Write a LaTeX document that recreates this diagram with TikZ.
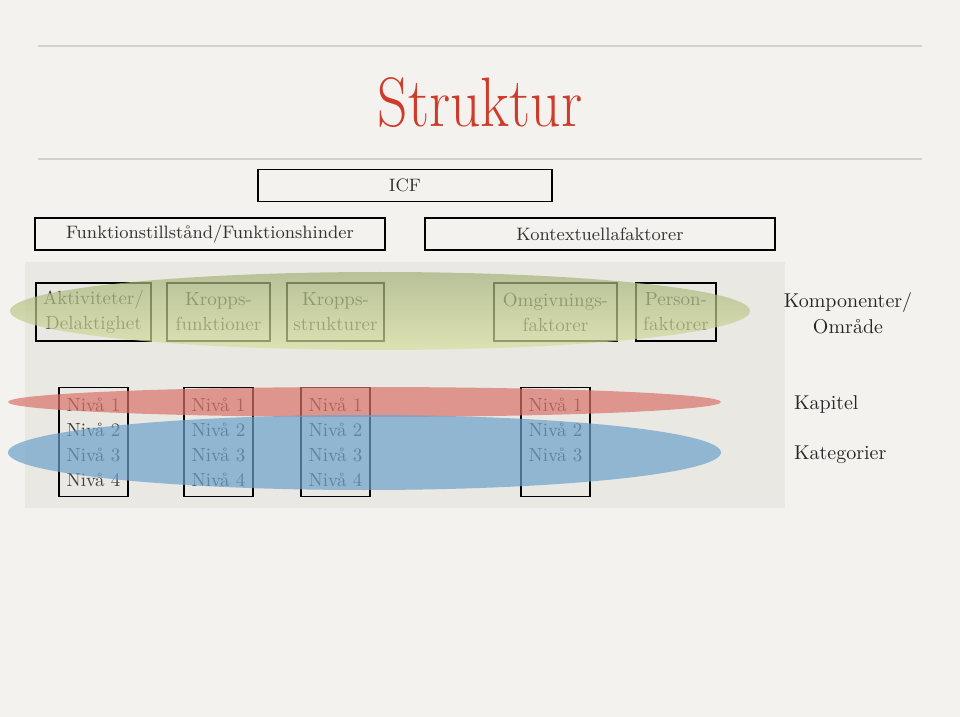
\documentclass[tikz,border=0pt]{standalone}
\usepackage{tikz}
\usetikzlibrary{positioning}
\definecolor{paper}{HTML}{F4F2EE}
\definecolor{panel}{HTML}{EAE8E3}
\definecolor{rule}{HTML}{D2D0CB}
\definecolor{titlered}{HTML}{CF3B2B}
\definecolor{olivetop}{HTML}{A3B178}
\definecolor{olivebot}{HTML}{D9E0A0}
\definecolor{chapred}{HTML}{D8736A}
\definecolor{catblue}{HTML}{6AA2CA}
\tikzset{
    %Define style for header boxes
    headbox/.style={
           draw=black, thick,
           minimum height=16pt,
           inner sep=0pt,
           font=\fontsize{9}{11}\selectfont,
           text=black!80},
    %Define style for component boxes
    compbox/.style={
           draw=black, thick,
           minimum height=29pt,
           inner sep=0pt,
           align=center,
           font=\fontsize{9.5}{12.5}\selectfont,
           text=black!80},
    %Define style for level boxes
    levelbox/.style={
           draw=black, thick,
           minimum width=34.5pt,
           minimum height=54.5pt,
           inner sep=0pt,
           align=center,
           font=\fontsize{9.5}{12.5}\selectfont,
           text=black!75},
    sidetext/.style={
           align=center,
           font=\fontsize{10}{13}\selectfont,
           text=black!85},
    % Define band style
    band/.style={fill opacity=.7}
}
\begin{document}
\begin{tikzpicture}[x=0.5pt,y=-0.5pt]
\useasboundingbox (0,0) rectangle (960,717);
\fill[paper] (0,0) rectangle (960,717);
\fill[panel] (25,262) rectangle (785,508);

 %title
\draw[rule, line width=.6pt] (38,46) -- (922,46);
\draw[rule, line width=.6pt] (38,159) -- (922,159);
\node[text=titlered] (title) at (480,103)
  {\scalebox{0.85}[1]{\fontsize{35}{40}\selectfont Struktur}};

 %nodes
\node[headbox, minimum width=147pt] (icf) at (405,185.5) {ICF};
\node[headbox, minimum width=175pt] (funk) at (210,234) {Funktionstillstånd/Funktionshinder};
\node[headbox, minimum width=175pt] (kont) at (600,234) {Kontextuellafaktorer};

\node[compbox, minimum width=57.5pt] (akt) at (93.5,312) {Aktiviteter/\\Delaktighet};
\node[compbox, minimum width=51.5pt] (kf) at (218.5,312) {Kropps-\\funktioner};
\node[compbox, minimum width=48.5pt] (ks) at (335.5,312) {Kropps-\\strukturer};
\node[compbox, minimum width=61.5pt] (omg) at (555.5,312) {Omgivnings-\\faktorer};
\node[compbox, minimum width=40pt] (pers) at (676,312) {Person-\\faktorer};
\node[sidetext] (omr) at (848,313) {Komponenter/\\Område};

\node[levelbox, below=22.5pt of akt] (n1) {Nivå 1\\Nivå 2\\Nivå 3\\Nivå 4};
\node[levelbox, below=22.5pt of kf] (n2) {Nivå 1\\Nivå 2\\Nivå 3\\Nivå 4};
\node[levelbox, below=22.5pt of ks] (n3) {Nivå 1\\Nivå 2\\Nivå 3\\Nivå 4};
\node[levelbox, below=22.5pt of omg] (n4) {Nivå 1\\Nivå 2\\Nivå 3\\\phantom{Nivå 4}};

\node[sidetext, anchor=west] (kap) at (787,404) {Kapitel};
\node[sidetext, below=9.5pt of kap.south west, anchor=north west] (kat) {Kategorier};

 %bands
\shade[band, top color=olivetop, bottom color=olivebot] (380,311) ellipse [x radius=370, y radius=39];
\fill[band, chapred] (364.5,402) ellipse [x radius=356.5, y radius=15];
\fill[band, catblue] (364.5,452.5) ellipse [x radius=356.5, y radius=37.5];

\end{tikzpicture}
\end{document}
